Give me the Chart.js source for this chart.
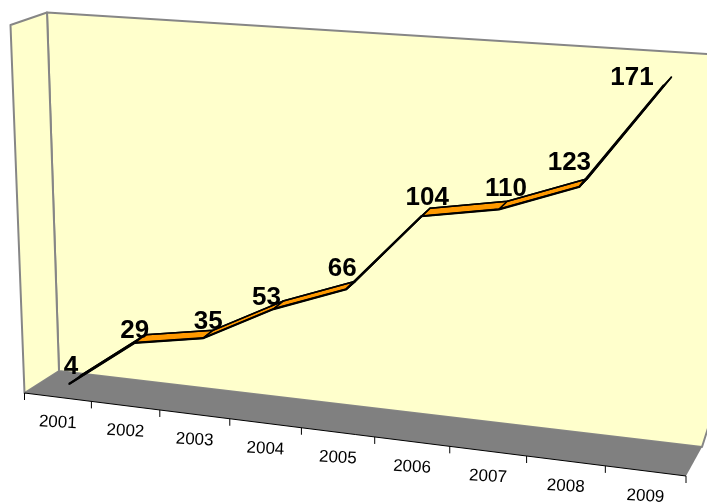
<!DOCTYPE html>
<html>
<head>
<meta charset="utf-8">
<style>
  html, body { margin: 0; padding: 0; background: #fff; }
  canvas { display: block; }
</style>
<script src="https://cdn.jsdelivr.net/npm/chart.js@4"></script>
</head>
<body>
<canvas id="chart" width="707" height="502"></canvas>
<script>
var years = ["2001", "2002", "2003", "2004", "2005", "2006", "2007", "2008", "2009"];
var values = [4, 29, 35, 53, 66, 104, 110, 123, 171];

// hand placed value labels, the way they sit in the picture
var labelNudge = [[2, -17], [0, -12], [5, -16], [-7, -11], [-4, -21], [6, -18], [7, -20], [-10, -24], [-32, -7]];

// where the low edge of the ribbon lands on screen: first/last year, lowest/highest value
var quad = { bl: [69, 384], br: [657, 452], tr: [664, 85], tl: [61, 55] };
// ribbon depth at the first and the last year
var depthFirst = [11, -8], depthLast = [7.5, -8];

// floor front edge ends, and how much the year spacing grows to the right
var floorLeft = [24.5, 393], floorRight = [686, 476], floorBend = -0.1;

function makeProjection(q) {
  var x0 = q.bl[0], y0 = q.bl[1], x1 = q.br[0], y1 = q.br[1];
  var x2 = q.tr[0], y2 = q.tr[1], x3 = q.tl[0], y3 = q.tl[1];
  var dx1 = x1 - x2, dx2 = x3 - x2, sx = x0 - x1 + x2 - x3;
  var dy1 = y1 - y2, dy2 = y3 - y2, sy = y0 - y1 + y2 - y3;
  var det = dx1 * dy2 - dx2 * dy1;
  var g = (sx * dy2 - dx2 * sy) / det;
  var h = (dx1 * sy - sx * dy1) / det;
  return function (u, w) {
    var d = 1 + g * u + h * w;
    return [
      ((x1 - x0 + g * x1) * u + (x3 - x0 + h * x3) * w + x0) / d,
      ((y1 - y0 + g * y1) * u + (y3 - y0 + h * y3) * w + y0) / d
    ];
  };
}
var project = makeProjection(quad);

// scale pixel -> screen position on the tilted plane
function toScreen(chart, px, py) {
  var xs = chart.scales.x, ys = chart.scales.y;
  var x0 = xs.getPixelForValue(0), x1 = xs.getPixelForValue(years.length - 1);
  var y0 = ys.getPixelForValue(values[0]), y1 = ys.getPixelForValue(values[values.length - 1]);
  return project((px - x0) / (x1 - x0), (py - y0) / (y1 - y0));
}

// point on the floor front edge, i is a year index (-0.5 is the left end)
function frontEdge(chart, i) {
  var xs = chart.scales.x;
  var step = xs.getPixelForValue(1) - xs.getPixelForValue(0);
  var u = (xs.getPixelForValue(0) + step * i - xs.left) / (xs.right - xs.left);
  var k = (1 + floorBend) * u / (1 + floorBend * u);
  return [
    floorLeft[0] + (floorRight[0] - floorLeft[0]) * k,
    floorLeft[1] + (floorRight[1] - floorLeft[1]) * k
  ];
}

function polygon(ctx, pts, fill, stroke, width) {
  ctx.beginPath();
  pts.forEach(function (p, i) { if (i) ctx.lineTo(p[0], p[1]); else ctx.moveTo(p[0], p[1]); });
  ctx.closePath();
  ctx.fillStyle = fill;
  ctx.fill();
  if (stroke) {
    ctx.strokeStyle = stroke;
    ctx.lineWidth = width;
    ctx.lineJoin = 'round';
    ctx.stroke();
  }
}

var tiltPlugin = {
  id: 'tilt',
  afterDatasetsUpdate: function (chart) {
    chart.data.datasets.forEach(function (ds, d) {
      chart.getDatasetMeta(d).data.forEach(function (el, i) {
        var p = toScreen(chart, el.x, el.y);
        var f = i / (years.length - 1);
        el.x = p[0] + (d === 1 ? depthFirst[0] + (depthLast[0] - depthFirst[0]) * f : 0);
        el.y = p[1] + (d === 1 ? depthFirst[1] + (depthLast[1] - depthFirst[1]) * f : 0);
      });
    });
  },
  beforeDatasetsDraw: function (chart) {
    var ctx = chart.ctx;
    var backLeft = [59, 371], backRight = [702, 447], topBack = [47, 12.5], topFront = [10.5, 25];

    polygon(ctx, [topBack, [760, 57.3], [717, 400], backRight, backLeft], '#FFFFCC', '#868686', 2);
    polygon(ctx, [topFront, topBack, backLeft, floorLeft], '#FFFFCC', '#868686', 2);
    polygon(ctx, [floorLeft, backLeft, backRight, floorRight], '#808080', null, 0);

    // floor front edge, tick marks and the year labels
    ctx.strokeStyle = '#000';
    ctx.lineWidth = 1;
    ctx.beginPath();
    ctx.moveTo(floorLeft[0], floorLeft[1]);
    ctx.lineTo(floorRight[0], floorRight[1]);
    for (var i = 0; i <= years.length; i++) {
      var t = frontEdge(chart, i - 0.5);
      ctx.moveTo(t[0], t[1]);
      ctx.lineTo(t[0], t[1] + 7);
    }
    ctx.stroke();

    ctx.fillStyle = '#000';
    ctx.font = '17px "Liberation Sans"';
    ctx.textAlign = 'center';
    ctx.textBaseline = 'middle';
    chart.data.labels.forEach(function (label, i) {
      var m = frontEdge(chart, i);
      ctx.save();
      ctx.translate(m[0], m[1] + 25.5);
      ctx.rotate(3 * Math.PI / 180);
      ctx.fillText(label, 0, 0);
      ctx.restore();
    });

    // ribbon, one piece per year
    var front = chart.getDatasetMeta(0).data, back = chart.getDatasetMeta(1).data;
    for (var s = 0; s < front.length - 1; s++) {
      polygon(ctx, [
        [front[s].x, front[s].y], [front[s + 1].x, front[s + 1].y],
        [back[s + 1].x, back[s + 1].y], [back[s].x, back[s].y]
      ], '#FF9900', '#000', 1.5);
    }
  },
  afterDatasetsDraw: function (chart) {
    var ctx = chart.ctx;
    ctx.fillStyle = '#000';
    ctx.font = 'bold 26px "Liberation Sans"';
    ctx.textAlign = 'center';
    ctx.textBaseline = 'middle';
    chart.getDatasetMeta(0).data.forEach(function (el, i) {
      ctx.fillText(String(values[i]), el.x + labelNudge[i][0], el.y + labelNudge[i][1]);
    });
  }
};

new Chart(document.getElementById('chart').getContext('2d'), {
  type: 'line',
  data: {
    labels: years,
    datasets: [
      { data: values, borderColor: '#000', borderWidth: 2.25, pointRadius: 0, tension: 0, clip: false },
      { data: values, borderColor: '#000', borderWidth: 1.5, pointRadius: 0, tension: 0, clip: false }
    ]
  },
  options: {
    responsive: false,
    animation: false,
    events: [],
    scales: {
      x: { display: false, offset: true },
      y: { display: false, min: 0, max: 200 }
    },
    plugins: { legend: { display: false }, tooltip: { enabled: false } }
  },
  plugins: [tiltPlugin]
});
</script>
</body>
</html>
